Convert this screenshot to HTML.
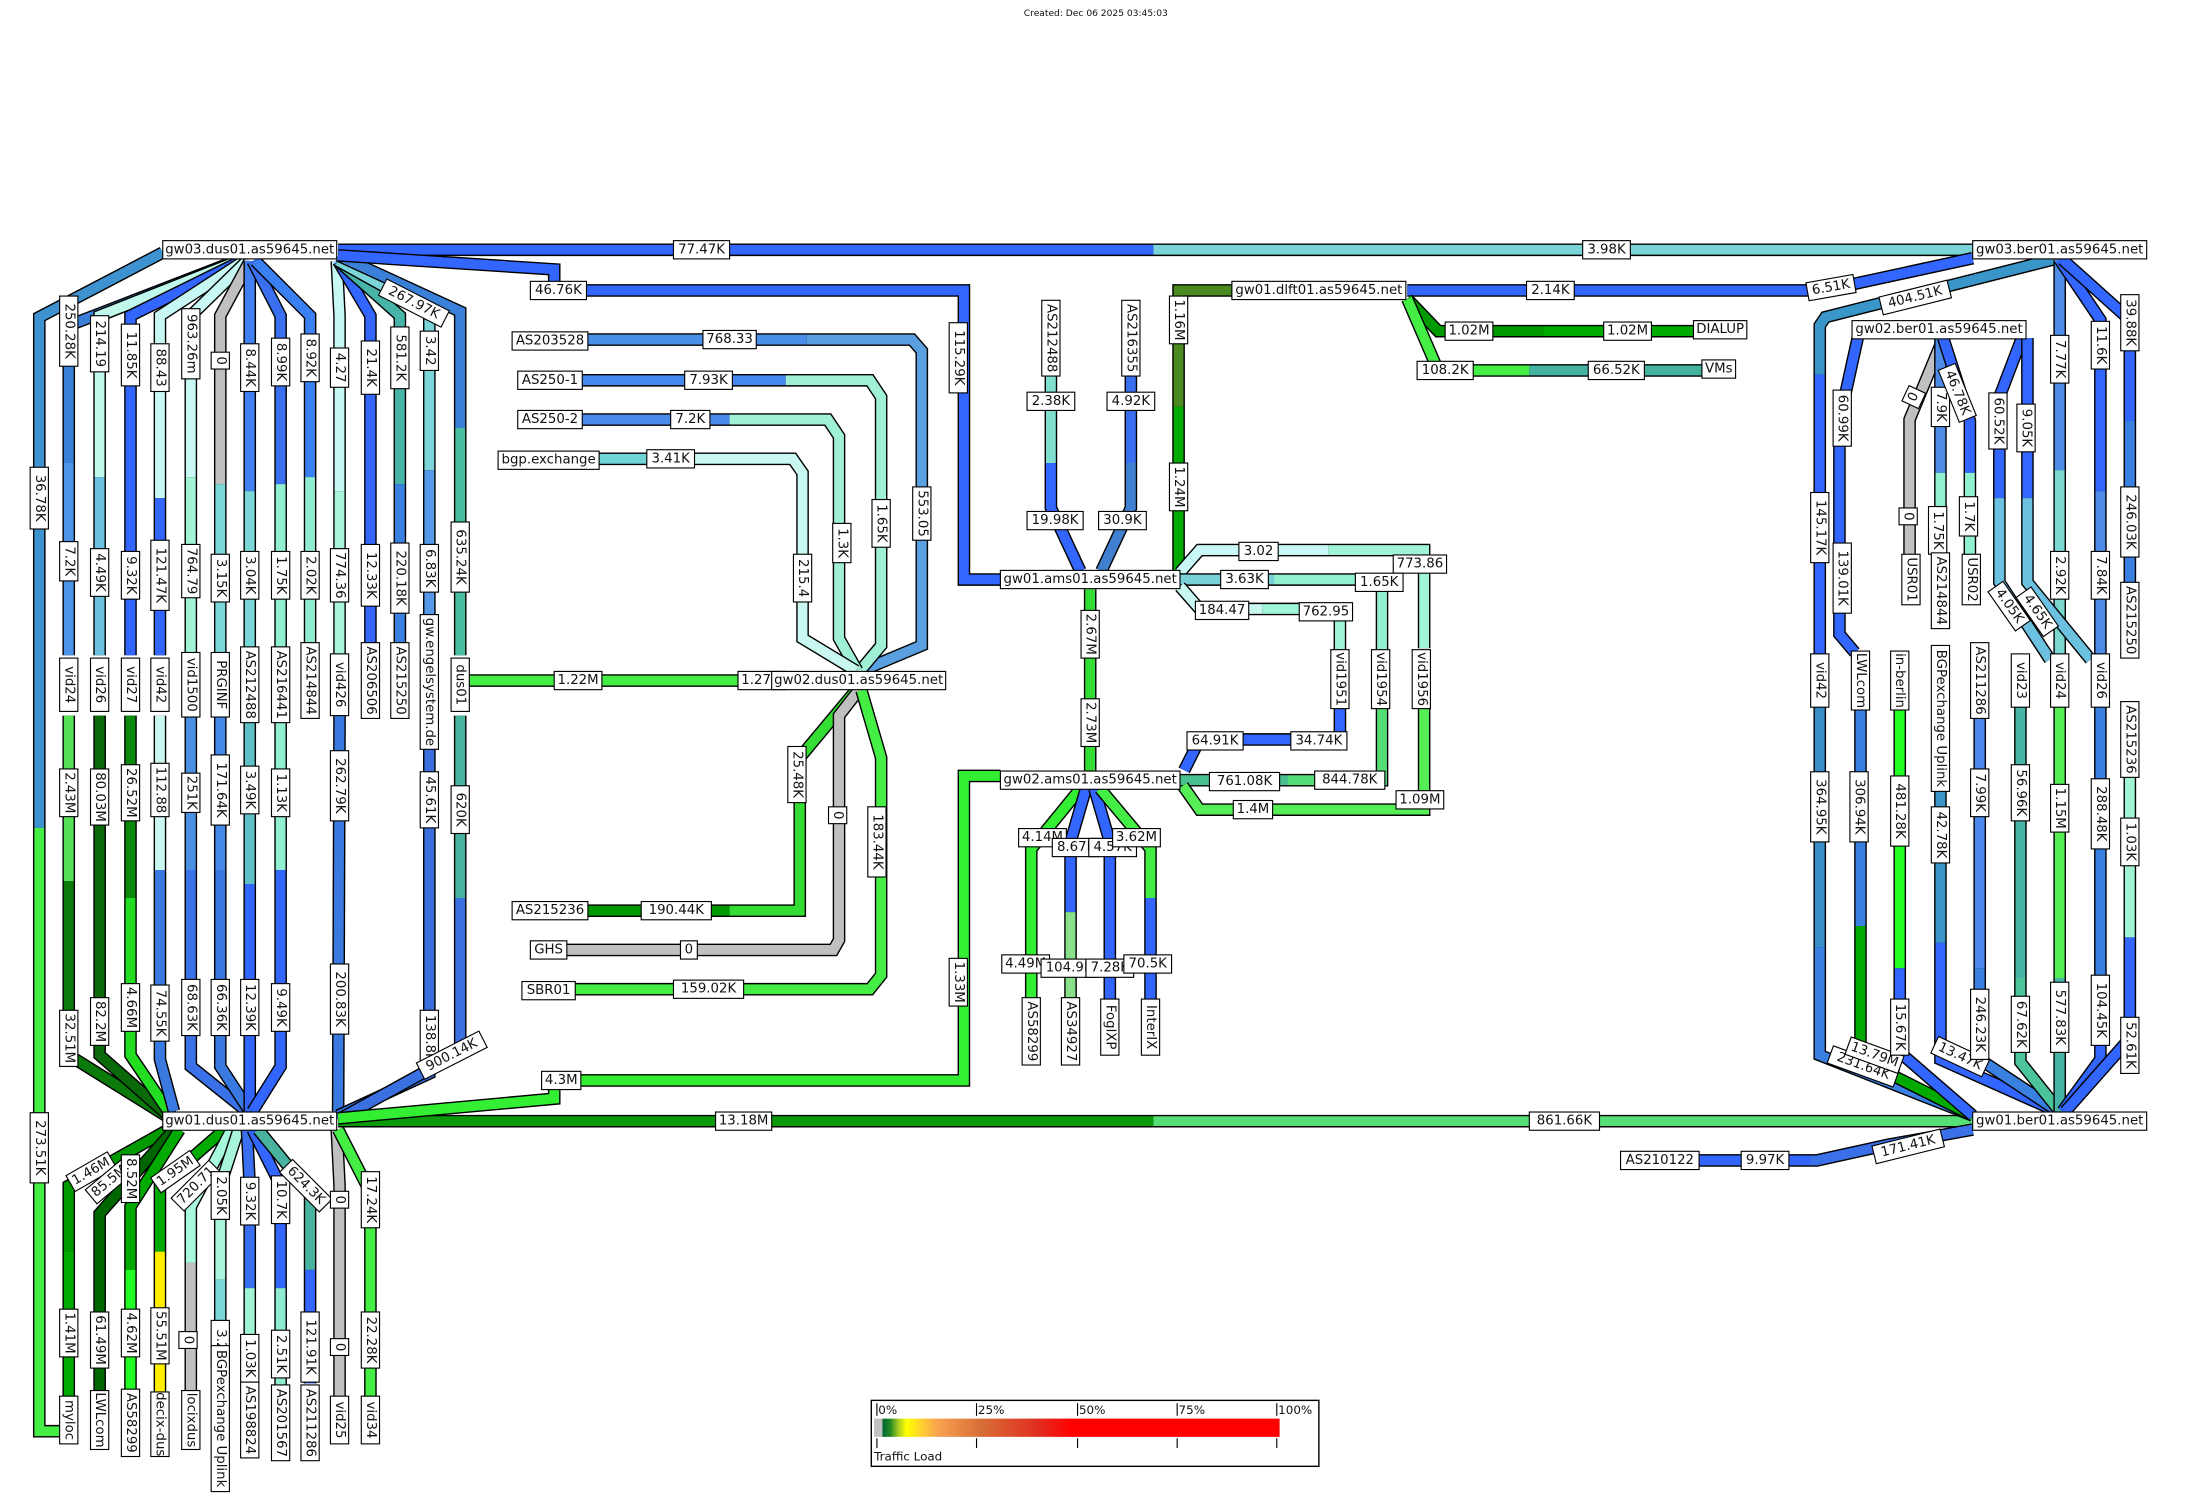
<!DOCTYPE html>
<html><head><meta charset="utf-8"><style>
html,body{margin:0;padding:0;background:#fff}
svg{display:block}
path{fill:none;stroke-width:7;stroke-linejoin:miter}
path.k{stroke:#000;stroke-width:9}
rect{fill:#fff;stroke:#000;stroke-width:.8}
text{font-family:"DejaVu Sans","Liberation Sans",sans-serif;font-size:9.5px;text-anchor:middle;dominant-baseline:central;fill:#111}
</style></head><body>
<svg width="2200" height="1500" viewBox="0 0 1568 1069" preserveAspectRatio="none" xmlns="http://www.w3.org/2000/svg">
<text x="781" y="10" style="font-size:6.5px">Created: Dec 06 2025 03:45:03</text>

<!-- ===== gw03.dus01 columns upper ===== -->
<path class="k" d="M116,180 L28,226 L28,1020 L45,1020"/>
<path stroke="#3e92d0" d="M116,180 L28,226 L28,590"/><path stroke="#44ee44" d="M28,590 L28,1020 L45,1020"/>
<path class="k" d="M168,186 L49,232 L49,467"/><path stroke="#3a80d8" d="M168,186 L49,232 L49,330"/><path stroke="#4d94e8" d="M49,330 L49,467"/>
<path class="k" d="M170,186 L71,225 L71,467"/><path stroke="#c0f8ec" d="M170,186 L71,225 L71,340"/><path stroke="#6cc0e0" d="M71,340 L71,467"/>
<path class="k" d="M172,186 L93,225 L93,467"/><path stroke="#3366ff" d="M172,186 L93,225 L93,467"/>
<path class="k" d="M174,186 L114,225 L114,467"/><path stroke="#c8f8f4" d="M174,186 L114,225 L114,355"/><path stroke="#3366ff" d="M114,355 L114,467"/>
<path class="k" d="M176,186 L136,225 L136,467"/><path stroke="#c8f8f4" d="M176,186 L136,225 L136,340"/><path stroke="#a0f4d4" d="M136,340 L136,467"/>
<path class="k" d="M178,186 L157,225 L157,467"/><path stroke="#c0c0c0" d="M178,186 L157,225 L157,345"/><path stroke="#7ad8d8" d="M157,345 L157,467"/>
<path class="k" d="M178,186 L178,467"/><path stroke="#4080f0" d="M178,186 L178,350"/><path stroke="#7ad8d8" d="M178,350 L178,467"/>
<path class="k" d="M180,186 L200,225 L200,467"/><path stroke="#3a70f0" d="M180,186 L200,225 L200,345"/><path stroke="#90f0d0" d="M200,345 L200,467"/>
<path class="k" d="M182,186 L221,225 L221,467"/><path stroke="#3a80f0" d="M182,186 L221,225 L221,340"/><path stroke="#90ecd0" d="M221,340 L221,467"/>
<path class="k" d="M240,186 L242,225 L242,467"/><path stroke="#c8f8f4" d="M240,186 L242,225 L242,350"/><path stroke="#a8f4dc" d="M242,350 L242,467"/>
<path class="k" d="M241,186 L264,225 L264,467"/><path stroke="#3366ff" d="M241,186 L264,225 L264,467"/>
<path class="k" d="M241,186 L285,225 L285,467"/><path stroke="#48b4a8" d="M241,186 L285,225 L285,345"/><path stroke="#3a80e0" d="M285,345 L285,467"/>
<path class="k" d="M241,186 L306,222 L306,440"/><path stroke="#7ad4d8" d="M241,186 L306,222 L306,335"/><path stroke="#5599e8" d="M306,335 L306,440"/>
<path class="k" d="M241,182 L328,222 L328,467"/><path stroke="#3a80d8" d="M241,182 L328,222 L328,305"/><path stroke="#48c0a0" d="M328,305 L328,467"/>

<!-- lower columns to gw01.dus01 -->
<path class="k" d="M49,510 L49,752 L118,795"/><path stroke="#55e055" d="M49,510 L49,628"/><path stroke="#0a7a0a" d="M49,628 L49,752 L118,795"/>
<path class="k" d="M71,510 L71,752 L120,795"/><path stroke="#0a6a0a" d="M71,510 L71,752 L120,795"/>
<path class="k" d="M93,510 L93,752 L122,795"/><path stroke="#0a8a0a" d="M93,510 L93,640"/><path stroke="#22dd22" d="M93,640 L93,752 L122,795"/>
<path class="k" d="M114,510 L114,755 L124,792"/><path stroke="#c8f8f0" d="M114,510 L114,620"/><path stroke="#3a7ae0" d="M114,620 L114,755 L124,792"/>
<path class="k" d="M136,510 L136,760 L176,792"/><path stroke="#4a90e0" d="M136,510 L136,620"/><path stroke="#3a70e8" d="M136,620 L136,760 L176,792"/>
<path class="k" d="M157,510 L157,760 L178,792"/><path stroke="#4488e8" d="M157,510 L157,620"/><path stroke="#3a7ae0" d="M157,620 L157,760 L178,792"/>
<path class="k" d="M178,510 L178,792"/><path stroke="#60c0c8" d="M178,510 L178,630"/><path stroke="#3366ff" d="M178,630 L178,792"/>
<path class="k" d="M200,510 L200,760 L180,792"/><path stroke="#90f0d0" d="M200,510 L200,620"/><path stroke="#3366ff" d="M200,620 L200,760 L180,792"/>
<path class="k" d="M242,510 L241,792"/><path stroke="#3a7ae0" d="M242,510 L241,792"/>
<path class="k" d="M306,532 L306,765 L241,795"/><path stroke="#3a70e0" d="M306,532 L306,765 L241,795"/>
<path class="k" d="M328,510 L328,750 L241,798"/><path stroke="#48b4a0" d="M328,510 L328,640"/><path stroke="#3a70e0" d="M328,640 L328,750 L241,798"/>

<!-- horizontals -->
<path class="k" d="M241,178 L1406,178"/><path stroke="#3366ff" d="M241,178 L822,178"/><path stroke="#7ad4d8" d="M822,178 L1406,178"/>
<path class="k" d="M241,182 L395,192 L395,207 L687,207 L687,413 L713,413"/><path stroke="#3366ff" d="M241,182 L395,192 L395,207 L687,207 L687,413 L713,413"/>
<path class="k" d="M241,799 L1406,799"/><path stroke="#0a9a0a" d="M241,799 L822,799"/><path stroke="#55e077" d="M822,799 L1406,799"/>
<path class="k" d="M241,797 L395,783 L395,770 L687,770 L687,553 L713,553"/><path stroke="#33ee33" d="M241,797 L395,783 L395,770 L687,770 L687,553 L713,553"/>
<path class="k" d="M332,485 L549,485"/><path stroke="#44ee44" d="M332,485 L549,485"/>

<!-- gw02.dus01 fan -->
<path class="k" d="M418,242 L650,242 L657,250 L657,460 L614,478"/><path stroke="#4a90e8" d="M418,242 L575,242"/><path stroke="#5aa0e0" d="M575,242 L650,242 L657,250 L657,460 L614,478"/>
<path class="k" d="M415,271 L620,271 L628,283 L628,460 L613,478"/><path stroke="#4488ee" d="M415,271 L560,271"/><path stroke="#a0f0d8" d="M560,271 L620,271 L628,283 L628,460 L613,478"/>
<path class="k" d="M415,299 L590,299 L598,311 L598,455 L611,478"/><path stroke="#4a8ae8" d="M415,299 L520,299"/><path stroke="#a0f0d8" d="M520,299 L590,299 L598,311 L598,455 L611,478"/>
<path class="k" d="M427,327 L565,327 L572,337 L572,455 L610,478"/><path stroke="#70d4d8" d="M427,327 L490,327"/><path stroke="#c8f8f0" d="M490,327 L565,327 L572,337 L572,455 L610,478"/>
<path class="k" d="M418,649 L570,649 L570,540 L610,492"/><path stroke="#009900" d="M418,649 L520,649"/><path stroke="#33dd33" d="M520,649 L570,649 L570,540 L610,492"/>
<path class="k" d="M404,677 L594,677 L598,670 L598,510 L612,492"/><path stroke="#c0c0c0" d="M404,677 L594,677 L598,670 L598,510 L612,492"/>
<path class="k" d="M410,705 L620,705 L628,695 L628,540 L614,492"/><path stroke="#44ee44" d="M410,705 L620,705 L628,695 L628,540 L614,492"/>

<!-- ams -->
<path class="k" d="M749,268 L749,362 L770,407"/><path stroke="#80e0d0" d="M749,268 L749,330"/><path stroke="#3366ff" d="M749,330 L749,362 L770,407"/>
<path class="k" d="M806,268 L806,362 L785,407"/><path stroke="#3a70f0" d="M806,268 L806,330"/><path stroke="#4080d0" d="M806,330 L806,362 L785,407"/>
<path class="k" d="M878,207 L840,207 L840,407"/><path stroke="#4a8a20" d="M878,207 L840,207 L840,290"/><path stroke="#00aa00" d="M840,290 L840,407"/>
<path class="k" d="M777,420 L777,549"/><path stroke="#33dd33" d="M777,420 L777,549"/>
<path class="k" d="M841,408 L855,392 L1015,392 L1015,462"/><path stroke="#c8f8f8" d="M841,408 L855,392 L947,392"/><path stroke="#a0f4d8" d="M947,392 L1015,392 L1015,462"/>
<path class="k" d="M841,413 L985,413 L985,463"/><path stroke="#78d0d8" d="M841,413 L908,413"/><path stroke="#90f0d0" d="M908,413 L985,413 L985,463"/>
<path class="k" d="M841,418 L855,434 L955,434 L955,463"/><path stroke="#c8f8f0" d="M841,418 L855,434 L900,434"/><path stroke="#a0f4d8" d="M900,434 L955,434 L955,463"/>
<path class="k" d="M955,505 L955,527 L855,527 L844,549"/><path stroke="#3366ff" d="M955,505 L955,527 L855,527 L844,549"/>
<path class="k" d="M985,505 L985,556 L841,556"/><path stroke="#55dd77" d="M985,505 L985,556 L918,556"/><path stroke="#48c090" d="M918,556 L841,556"/>
<path class="k" d="M1015,505 L1015,577 L855,577 L843,560"/><path stroke="#55ee55" d="M1015,505 L1015,577 L855,577 L843,560"/>
<path class="k" d="M770,562 L735,605 L735,712"/><path stroke="#33ee33" d="M770,562 L735,605 L735,712"/>
<path class="k" d="M774,562 L763,600 L763,712"/><path stroke="#3366ff" d="M774,562 L763,600 L763,650"/><path stroke="#88e088" d="M763,650 L763,712"/>
<path class="k" d="M780,562 L791,600 L791,712"/><path stroke="#3366ff" d="M780,562 L791,600 L791,712"/>
<path class="k" d="M784,562 L820,605 L820,712"/><path stroke="#44ee44" d="M784,562 L820,605 L820,640"/><path stroke="#3366ff" d="M820,640 L820,712"/>

<!-- dlft -->
<path class="k" d="M1003,207 L1300,207 L1406,184"/><path stroke="#3366ff" d="M1003,207 L1300,207 L1406,184"/>
<path class="k" d="M1003,213 L1025,236 L1207,236"/><path stroke="#009900" d="M1003,213 L1025,236 L1100,236"/><path stroke="#00aa00" d="M1100,236 L1207,236"/>
<path class="k" d="M1003,213 L1025,264 L1214,264"/><path stroke="#44ee44" d="M1003,213 L1025,264 L1090,264"/><path stroke="#44b4a0" d="M1090,264 L1214,264"/>

<!-- ber -->
<path class="k" d="M1463,185 L1301,226 L1297,232 L1297,470"/><path stroke="#3a96c8" d="M1463,185 L1301,226 L1297,232 L1297,267"/><path stroke="#3366ff" d="M1297,267 L1297,470"/>
<path class="k" d="M1297,499 L1297,752 L1406,795"/><path stroke="#3a8ec8" d="M1297,499 L1297,675"/><path stroke="#3a80e0" d="M1297,675 L1297,752 L1406,795"/>
<path class="k" d="M1324,241 L1311,300 L1311,452 L1322,465"/><path stroke="#3366ff" d="M1324,241 L1311,300 L1311,452 L1322,465"/>
<path class="k" d="M1326,505 L1326,755 L1406,795"/><path stroke="#3a80e0" d="M1326,505 L1326,660"/><path stroke="#00aa00" d="M1326,660 L1326,755 L1406,795"/>
<path class="k" d="M1354,505 L1354,750 L1406,795"/><path stroke="#22ff22" d="M1354,505 L1354,690"/><path stroke="#3366ff" d="M1354,690 L1354,750 L1406,795"/>
<path class="k" d="M1383,564 L1383,755 L1466,792"/><path stroke="#3a96c8" d="M1383,564 L1383,672"/><path stroke="#3366ff" d="M1383,672 L1383,755 L1466,792"/>
<path class="k" d="M1411,511 L1411,755 L1467,792"/><path stroke="#4d8af0" d="M1411,511 L1411,690"/><path stroke="#3a80e0" d="M1411,690 L1411,755 L1467,792"/>
<path class="k" d="M1440,499 L1440,757 L1468,792"/><path stroke="#48b4a8" d="M1440,499 L1440,697"/><path stroke="#4cc49a" d="M1440,697 L1440,757 L1468,792"/>
<path class="k" d="M1468,499 L1468,792"/><path stroke="#55ee55" d="M1468,499 L1468,697"/><path stroke="#48b4a8" d="M1468,697 L1468,792"/>
<path class="k" d="M1497,499 L1497,755 L1470,792"/><path stroke="#3a80e0" d="M1497,499 L1497,697"/><path stroke="#3366ff" d="M1497,697 L1497,755 L1470,792"/>
<path class="k" d="M1518,554 L1518,740 L1472,792"/><path stroke="#a0f4d4" d="M1518,554 L1518,668"/><path stroke="#3366ff" d="M1518,668 L1518,740 L1472,792"/>
<path class="k" d="M1468,185 L1468,470"/><path stroke="#4d8ce8" d="M1468,185 L1468,335"/><path stroke="#7ad8d0" d="M1468,335 L1468,470"/>
<path class="k" d="M1468,185 L1497,228 L1497,470"/><path stroke="#3366ff" d="M1468,185 L1497,228 L1497,350"/><path stroke="#4d8ce8" d="M1497,350 L1497,470"/>
<path class="k" d="M1470,185 L1518,228 L1518,416"/><path stroke="#3366ff" d="M1470,185 L1518,228 L1518,300"/><path stroke="#3a80e0" d="M1518,300 L1518,416"/>
<path class="k" d="M1385,241 L1361,299 L1361,396"/><path stroke="#c0c0c0" d="M1385,241 L1361,299 L1361,396"/>
<path class="k" d="M1383,241 L1383,396"/><path stroke="#4d8ce8" d="M1383,241 L1383,337"/><path stroke="#90f0d0" d="M1383,337 L1383,396"/>
<path class="k" d="M1385,241 L1404,300 L1404,396"/><path stroke="#3366ff" d="M1385,241 L1404,300 L1404,337"/><path stroke="#90f0d0" d="M1404,337 L1404,396"/>
<path class="k" d="M1441,241 L1425,283 L1425,415 L1461,470"/><path stroke="#3366ff" d="M1441,241 L1425,283 L1425,355"/><path stroke="#6cc0e0" d="M1425,355 L1425,415 L1461,470"/>
<path class="k" d="M1445,241 L1445,415 L1490,470"/><path stroke="#3366ff" d="M1445,241 L1445,355"/><path stroke="#6cc0e0" d="M1445,355 L1445,415 L1490,470"/>
<path class="k" d="M1211,827 L1295,827 L1345,816 L1406,805"/><path stroke="#3366ff" d="M1211,827 L1290,827"/><path stroke="#3a70e8" d="M1290,827 L1295,827 L1345,816 L1406,805"/>

<!-- bottom-left -->
<path class="k" d="M120,805 L49,845 L49,996"/><path stroke="#009900" d="M120,805 L49,845 L49,892"/><path stroke="#00aa00" d="M49,892 L49,996"/>
<path class="k" d="M124,805 L71,865 L71,992"/><path stroke="#006600" d="M124,805 L71,865 L71,992"/>
<path class="k" d="M128,805 L93,860 L93,996"/><path stroke="#00aa00" d="M128,805 L93,860 L93,905"/><path stroke="#22ff22" d="M93,905 L93,996"/>
<path class="k" d="M160,805 L114,845 L114,995"/><path stroke="#00aa00" d="M160,805 L114,845 L114,892"/><path stroke="#ffee00" d="M114,892 L114,995"/>
<path class="k" d="M165,805 L136,860 L136,996"/><path stroke="#a8f8dc" d="M165,805 L136,860 L136,900"/><path stroke="#c0c0c0" d="M136,900 L136,996"/>
<path class="k" d="M170,805 L157,845 L157,960"/><path stroke="#a8f4dc" d="M170,805 L157,845 L157,912"/><path stroke="#7ad8d8" d="M157,912 L157,960"/>
<path class="k" d="M176,805 L178,845 L178,986"/><path stroke="#3a70f0" d="M176,805 L178,845 L178,918"/><path stroke="#a0f4d4" d="M178,918 L178,986"/>
<path class="k" d="M180,805 L200,845 L200,988"/><path stroke="#3366ff" d="M180,805 L200,845 L200,918"/><path stroke="#90ecd0" d="M200,918 L200,988"/>
<path class="k" d="M184,805 L221,850 L221,986"/><path stroke="#48b4a0" d="M184,805 L221,850 L221,905"/><path stroke="#3366ff" d="M221,905 L221,986"/>
<path class="k" d="M240,805 L242,845 L242,1000"/><path stroke="#c0c0c0" d="M240,805 L242,845 L242,1000"/>
<path class="k" d="M241,805 L264,850 L264,1000"/><path stroke="#44ee44" d="M241,805 L264,850 L264,1000"/>

<!-- ===== link labels ===== -->
<g transform="translate(28,355) rotate(90)"><rect x="-22" y="-6.5" width="44" height="13"/><text>36.78K</text></g>
<g transform="translate(28,818) rotate(90)"><rect x="-25" y="-6.5" width="50" height="13"/><text>273.51K</text></g>
<g transform="translate(49,236) rotate(90)"><rect x="-25" y="-6.5" width="50" height="13"/><text>250.28K</text></g>
<g transform="translate(49,400) rotate(90)"><rect x="-14" y="-6.5" width="28" height="13"/><text>7.2K</text></g>
<g transform="translate(71,245) rotate(90)"><rect x="-20" y="-6.5" width="40" height="13"/><text>214.19</text></g>
<g transform="translate(71,408) rotate(90)"><rect x="-17" y="-6.5" width="34" height="13"/><text>4.49K</text></g>
<g transform="translate(93,253) rotate(90)"><rect x="-22" y="-6.5" width="44" height="13"/><text>11.85K</text></g>
<g transform="translate(93,410) rotate(90)"><rect x="-17" y="-6.5" width="34" height="13"/><text>9.32K</text></g>
<g transform="translate(114,262) rotate(90)"><rect x="-17" y="-6.5" width="34" height="13"/><text>88.43</text></g>
<g transform="translate(114,410) rotate(90)"><rect x="-25" y="-6.5" width="50" height="13"/><text>121.47K</text></g>
<g transform="translate(136,245) rotate(90)"><rect x="-25" y="-6.5" width="50" height="13"/><text>963.26m</text></g>
<g transform="translate(136,407) rotate(90)"><rect x="-19" y="-6.5" width="38" height="13"/><text>764.79</text></g>
<g transform="translate(157,257) rotate(90)"><rect x="-6" y="-6.5" width="12" height="13"/><text>0</text></g>
<g transform="translate(157,412) rotate(90)"><rect x="-17" y="-6.5" width="34" height="13"/><text>3.15K</text></g>
<g transform="translate(178,262) rotate(90)"><rect x="-17" y="-6.5" width="34" height="13"/><text>8.44K</text></g>
<g transform="translate(178,410) rotate(90)"><rect x="-17" y="-6.5" width="34" height="13"/><text>3.04K</text></g>
<g transform="translate(200,258) rotate(90)"><rect x="-17" y="-6.5" width="34" height="13"/><text>8.99K</text></g>
<g transform="translate(200,410) rotate(90)"><rect x="-17" y="-6.5" width="34" height="13"/><text>1.75K</text></g>
<g transform="translate(221,255) rotate(90)"><rect x="-17" y="-6.5" width="34" height="13"/><text>8.92K</text></g>
<g transform="translate(221,410) rotate(90)"><rect x="-17" y="-6.5" width="34" height="13"/><text>2.02K</text></g>
<g transform="translate(242,262) rotate(90)"><rect x="-14" y="-6.5" width="28" height="13"/><text>4.27</text></g>
<g transform="translate(242,410) rotate(90)"><rect x="-19" y="-6.5" width="38" height="13"/><text>774.36</text></g>
<g transform="translate(264,262) rotate(90)"><rect x="-19" y="-6.5" width="38" height="13"/><text>21.4K</text></g>
<g transform="translate(264,410) rotate(90)"><rect x="-22" y="-6.5" width="44" height="13"/><text>12.33K</text></g>
<g transform="translate(285,255) rotate(90)"><rect x="-22" y="-6.5" width="44" height="13"/><text>581.2K</text></g>
<g transform="translate(285,412) rotate(90)"><rect x="-25" y="-6.5" width="50" height="13"/><text>220.18K</text></g>
<g transform="translate(306,250) rotate(90)"><rect x="-14" y="-6.5" width="28" height="13"/><text>3.42</text></g>
<g transform="translate(306,405) rotate(90)"><rect x="-17" y="-6.5" width="34" height="13"/><text>6.83K</text></g>
<g transform="translate(295,216) rotate(27)"><rect x="-25" y="-6.5" width="50" height="13"/><text>267.97K</text></g>
<g transform="translate(328,397) rotate(90)"><rect x="-25" y="-6.5" width="50" height="13"/><text>635.24K</text></g>

<g transform="translate(49,565) rotate(90)"><rect x="-17" y="-6.5" width="34" height="13"/><text>2.43M</text></g>
<g transform="translate(49,740) rotate(90)"><rect x="-20" y="-6.5" width="40" height="13"/><text>32.51M</text></g>
<g transform="translate(71,568) rotate(90)"><rect x="-20" y="-6.5" width="40" height="13"/><text>80.03M</text></g>
<g transform="translate(71,728) rotate(90)"><rect x="-17" y="-6.5" width="34" height="13"/><text>82.2M</text></g>
<g transform="translate(93,565) rotate(90)"><rect x="-20" y="-6.5" width="40" height="13"/><text>26.52M</text></g>
<g transform="translate(93,718) rotate(90)"><rect x="-17" y="-6.5" width="34" height="13"/><text>4.66M</text></g>
<g transform="translate(114,563) rotate(90)"><rect x="-19" y="-6.5" width="38" height="13"/><text>112.88</text></g>
<g transform="translate(114,722) rotate(90)"><rect x="-20" y="-6.5" width="40" height="13"/><text>74.55K</text></g>
<g transform="translate(136,565) rotate(90)"><rect x="-14" y="-6.5" width="28" height="13"/><text>251K</text></g>
<g transform="translate(136,718) rotate(90)"><rect x="-20" y="-6.5" width="40" height="13"/><text>68.63K</text></g>
<g transform="translate(157,563) rotate(90)"><rect x="-25" y="-6.5" width="50" height="13"/><text>171.64K</text></g>
<g transform="translate(157,718) rotate(90)"><rect x="-20" y="-6.5" width="40" height="13"/><text>66.36K</text></g>
<g transform="translate(178,563) rotate(90)"><rect x="-17" y="-6.5" width="34" height="13"/><text>3.49K</text></g>
<g transform="translate(178,718) rotate(90)"><rect x="-20" y="-6.5" width="40" height="13"/><text>12.39K</text></g>
<g transform="translate(200,565) rotate(90)"><rect x="-17" y="-6.5" width="34" height="13"/><text>1.13K</text></g>
<g transform="translate(200,718) rotate(90)"><rect x="-17" y="-6.5" width="34" height="13"/><text>9.49K</text></g>
<g transform="translate(242,560) rotate(90)"><rect x="-25" y="-6.5" width="50" height="13"/><text>262.79K</text></g>
<g transform="translate(242,712) rotate(90)"><rect x="-25" y="-6.5" width="50" height="13"/><text>200.83K</text></g>
<g transform="translate(306,570) rotate(90)"><rect x="-20" y="-6.5" width="40" height="13"/><text>45.61K</text></g>
<g transform="translate(306,740) rotate(90)"><rect x="-20" y="-6.5" width="40" height="13"/><text>138.8K</text></g>
<g transform="translate(328,577) rotate(90)"><rect x="-17" y="-6.5" width="34" height="13"/><text>620K</text></g>
<g transform="translate(322,752) rotate(-27)"><rect x="-25" y="-6.5" width="50" height="13"/><text>900.14K</text></g>

<g transform="translate(500,178)"><rect x="-20" y="-6.5" width="40" height="13"/><text>77.47K</text></g>
<g transform="translate(1145,178)"><rect x="-17" y="-6.5" width="34" height="13"/><text>3.98K</text></g>
<g transform="translate(398,207)"><rect x="-20" y="-6.5" width="40" height="13"/><text>46.76K</text></g>
<g transform="translate(683,255) rotate(90)"><rect x="-25" y="-6.5" width="50" height="13"/><text>115.29K</text></g>
<g transform="translate(530,799)"><rect x="-20" y="-6.5" width="40" height="13"/><text>13.18M</text></g>
<g transform="translate(1115,799)"><rect x="-25" y="-6.5" width="50" height="13"/><text>861.66K</text></g>
<g transform="translate(400,770)"><rect x="-14" y="-6.5" width="28" height="13"/><text>4.3M</text></g>
<g transform="translate(683,700) rotate(90)"><rect x="-17" y="-6.5" width="34" height="13"/><text>1.33M</text></g>
<g transform="translate(412,485)"><rect x="-17" y="-6.5" width="34" height="13"/><text>1.22M</text></g>
<g transform="translate(543,485)"><rect x="-17" y="-6.5" width="34" height="13"/><text>1.27M</text></g>

<g transform="translate(520,242)"><rect x="-19" y="-6.5" width="38" height="13"/><text>768.33</text></g>
<g transform="translate(657,366) rotate(90)"><rect x="-19" y="-6.5" width="38" height="13"/><text>553.05</text></g>
<g transform="translate(505,271)"><rect x="-17" y="-6.5" width="34" height="13"/><text>7.93K</text></g>
<g transform="translate(628,373) rotate(90)"><rect x="-17" y="-6.5" width="34" height="13"/><text>1.65K</text></g>
<g transform="translate(492,299)"><rect x="-14" y="-6.5" width="28" height="13"/><text>7.2K</text></g>
<g transform="translate(600,387) rotate(90)"><rect x="-14" y="-6.5" width="28" height="13"/><text>1.3K</text></g>
<g transform="translate(478,327)"><rect x="-17" y="-6.5" width="34" height="13"/><text>3.41K</text></g>
<g transform="translate(572,412) rotate(90)"><rect x="-17" y="-6.5" width="34" height="13"/><text>215.4</text></g>
<g transform="translate(482,649)"><rect x="-25" y="-6.5" width="50" height="13"/><text>190.44K</text></g>
<g transform="translate(568,552) rotate(90)"><rect x="-20" y="-6.5" width="40" height="13"/><text>25.48K</text></g>
<g transform="translate(491,677)"><rect x="-6" y="-6.5" width="12" height="13"/><text>0</text></g>
<g transform="translate(597,581) rotate(90)"><rect x="-6" y="-6.5" width="12" height="13"/><text>0</text></g>
<g transform="translate(505,705)"><rect x="-25" y="-6.5" width="50" height="13"/><text>159.02K</text></g>
<g transform="translate(625,600) rotate(90)"><rect x="-25" y="-6.5" width="50" height="13"/><text>183.44K</text></g>

<g transform="translate(749,286)"><rect x="-17" y="-6.5" width="34" height="13"/><text>2.38K</text></g>
<g transform="translate(752,371)"><rect x="-20" y="-6.5" width="40" height="13"/><text>19.98K</text></g>
<g transform="translate(806,286)"><rect x="-17" y="-6.5" width="34" height="13"/><text>4.92K</text></g>
<g transform="translate(800,371)"><rect x="-17" y="-6.5" width="34" height="13"/><text>30.9K</text></g>
<g transform="translate(840,228) rotate(90)"><rect x="-17" y="-6.5" width="34" height="13"/><text>1.16M</text></g>
<g transform="translate(840,347) rotate(90)"><rect x="-17" y="-6.5" width="34" height="13"/><text>1.24M</text></g>
<g transform="translate(777,452) rotate(90)"><rect x="-17" y="-6.5" width="34" height="13"/><text>2.67M</text></g>
<g transform="translate(777,515) rotate(90)"><rect x="-17" y="-6.5" width="34" height="13"/><text>2.73M</text></g>
<g transform="translate(897,393)"><rect x="-14" y="-6.5" width="28" height="13"/><text>3.02</text></g>
<g transform="translate(1012,402)"><rect x="-19" y="-6.5" width="38" height="13"/><text>773.86</text></g>
<g transform="translate(887,413)"><rect x="-17" y="-6.5" width="34" height="13"/><text>3.63K</text></g>
<g transform="translate(983,415)"><rect x="-17" y="-6.5" width="34" height="13"/><text>1.65K</text></g>
<g transform="translate(871,435)"><rect x="-19" y="-6.5" width="38" height="13"/><text>184.47</text></g>
<g transform="translate(945,436)"><rect x="-19" y="-6.5" width="38" height="13"/><text>762.95</text></g>
<g transform="translate(940,528)"><rect x="-20" y="-6.5" width="40" height="13"/><text>34.74K</text></g>
<g transform="translate(866,528)"><rect x="-20" y="-6.5" width="40" height="13"/><text>64.91K</text></g>
<g transform="translate(962,556)"><rect x="-25" y="-6.5" width="50" height="13"/><text>844.78K</text></g>
<g transform="translate(887,557)"><rect x="-25" y="-6.5" width="50" height="13"/><text>761.08K</text></g>
<g transform="translate(1012,570)"><rect x="-17" y="-6.5" width="34" height="13"/><text>1.09M</text></g>
<g transform="translate(893,577)"><rect x="-14" y="-6.5" width="28" height="13"/><text>1.4M</text></g>
<g transform="translate(743,597)"><rect x="-17" y="-6.5" width="34" height="13"/><text>4.14M</text></g>
<g transform="translate(731,687)"><rect x="-17" y="-6.5" width="34" height="13"/><text>4.49M</text></g>
<g transform="translate(767,604)"><rect x="-17" y="-6.5" width="34" height="13"/><text>8.67K</text></g>
<g transform="translate(762,690)"><rect x="-20" y="-6.5" width="40" height="13"/><text>104.9K</text></g>
<g transform="translate(793,604)"><rect x="-17" y="-6.5" width="34" height="13"/><text>4.57K</text></g>
<g transform="translate(791,690)"><rect x="-17" y="-6.5" width="34" height="13"/><text>7.28K</text></g>
<g transform="translate(810,597)"><rect x="-17" y="-6.5" width="34" height="13"/><text>3.62M</text></g>
<g transform="translate(818,687)"><rect x="-17" y="-6.5" width="34" height="13"/><text>70.5K</text></g>

<g transform="translate(1105,207)"><rect x="-17" y="-6.5" width="34" height="13"/><text>2.14K</text></g>
<g transform="translate(1305,205) rotate(-10)"><rect x="-17" y="-6.5" width="34" height="13"/><text>6.51K</text></g>
<g transform="translate(1047,236)"><rect x="-17" y="-6.5" width="34" height="13"/><text>1.02M</text></g>
<g transform="translate(1160,236)"><rect x="-17" y="-6.5" width="34" height="13"/><text>1.02M</text></g>
<g transform="translate(1030,264)"><rect x="-20" y="-6.5" width="40" height="13"/><text>108.2K</text></g>
<g transform="translate(1152,264)"><rect x="-20" y="-6.5" width="40" height="13"/><text>66.52K</text></g>

<g transform="translate(1365,212) rotate(-14)"><rect x="-25" y="-6.5" width="50" height="13"/><text>404.51K</text></g>
<g transform="translate(1297,376) rotate(90)"><rect x="-25" y="-6.5" width="50" height="13"/><text>145.17K</text></g>
<g transform="translate(1297,575) rotate(90)"><rect x="-25" y="-6.5" width="50" height="13"/><text>364.95K</text></g>
<g transform="translate(1328,760) rotate(20)"><rect x="-25" y="-6.5" width="50" height="13"/><text>231.64K</text></g>
<g transform="translate(1313,298) rotate(90)"><rect x="-20" y="-6.5" width="40" height="13"/><text>60.99K</text></g>
<g transform="translate(1313,412) rotate(90)"><rect x="-25" y="-6.5" width="50" height="13"/><text>139.01K</text></g>
<g transform="translate(1325,575) rotate(90)"><rect x="-25" y="-6.5" width="50" height="13"/><text>306.94K</text></g>
<g transform="translate(1336,752) rotate(20)"><rect x="-20" y="-6.5" width="40" height="13"/><text>13.79M</text></g>
<g transform="translate(1354,578) rotate(90)"><rect x="-25" y="-6.5" width="50" height="13"/><text>481.28K</text></g>
<g transform="translate(1354,732) rotate(90)"><rect x="-20" y="-6.5" width="40" height="13"/><text>15.67K</text></g>
<g transform="translate(1383,595) rotate(90)"><rect x="-20" y="-6.5" width="40" height="13"/><text>42.78K</text></g>
<g transform="translate(1397,753) rotate(25)"><rect x="-20" y="-6.5" width="40" height="13"/><text>13.47K</text></g>
<g transform="translate(1411,565) rotate(90)"><rect x="-17" y="-6.5" width="34" height="13"/><text>7.99K</text></g>
<g transform="translate(1411,730) rotate(90)"><rect x="-25" y="-6.5" width="50" height="13"/><text>246.23K</text></g>
<g transform="translate(1440,565) rotate(90)"><rect x="-20" y="-6.5" width="40" height="13"/><text>56.96K</text></g>
<g transform="translate(1440,730) rotate(90)"><rect x="-20" y="-6.5" width="40" height="13"/><text>67.62K</text></g>
<g transform="translate(1468,576) rotate(90)"><rect x="-17" y="-6.5" width="34" height="13"/><text>1.15M</text></g>
<g transform="translate(1468,725) rotate(90)"><rect x="-25" y="-6.5" width="50" height="13"/><text>577.83K</text></g>
<g transform="translate(1497,580) rotate(90)"><rect x="-25" y="-6.5" width="50" height="13"/><text>288.48K</text></g>
<g transform="translate(1497,720) rotate(90)"><rect x="-25" y="-6.5" width="50" height="13"/><text>104.45K</text></g>
<g transform="translate(1518,600) rotate(90)"><rect x="-17" y="-6.5" width="34" height="13"/><text>1.03K</text></g>
<g transform="translate(1518,745) rotate(90)"><rect x="-20" y="-6.5" width="40" height="13"/><text>52.61K</text></g>
<g transform="translate(1468,256) rotate(90)"><rect x="-17" y="-6.5" width="34" height="13"/><text>7.77K</text></g>
<g transform="translate(1468,410) rotate(90)"><rect x="-17" y="-6.5" width="34" height="13"/><text>2.92K</text></g>
<g transform="translate(1497,246) rotate(90)"><rect x="-17" y="-6.5" width="34" height="13"/><text>11.6K</text></g>
<g transform="translate(1497,410) rotate(90)"><rect x="-17" y="-6.5" width="34" height="13"/><text>7.84K</text></g>
<g transform="translate(1518,230) rotate(90)"><rect x="-20" y="-6.5" width="40" height="13"/><text>39.88K</text></g>
<g transform="translate(1518,372) rotate(90)"><rect x="-25" y="-6.5" width="50" height="13"/><text>246.03K</text></g>
<g transform="translate(1364,283) rotate(-65)"><rect x="-6" y="-6.5" width="12" height="13"/><text>0</text></g>
<g transform="translate(1360,368) rotate(90)"><rect x="-6" y="-6.5" width="12" height="13"/><text>0</text></g>
<g transform="translate(1383,290) rotate(90)"><rect x="-14" y="-6.5" width="28" height="13"/><text>7.9K</text></g>
<g transform="translate(1381,378) rotate(90)"><rect x="-17" y="-6.5" width="34" height="13"/><text>1.75K</text></g>
<g transform="translate(1395,280) rotate(68)"><rect x="-20" y="-6.5" width="40" height="13"/><text>46.78K</text></g>
<g transform="translate(1403,368) rotate(90)"><rect x="-14" y="-6.5" width="28" height="13"/><text>1.7K</text></g>
<g transform="translate(1424,300) rotate(90)"><rect x="-20" y="-6.5" width="40" height="13"/><text>60.52K</text></g>
<g transform="translate(1432,432) rotate(55)"><rect x="-17" y="-6.5" width="34" height="13"/><text>4.05K</text></g>
<g transform="translate(1444,305) rotate(90)"><rect x="-17" y="-6.5" width="34" height="13"/><text>9.05K</text></g>
<g transform="translate(1452,436) rotate(55)"><rect x="-17" y="-6.5" width="34" height="13"/><text>4.65K</text></g>
<g transform="translate(1258,827)"><rect x="-17" y="-6.5" width="34" height="13"/><text>9.97K</text></g>
<g transform="translate(1360,817) rotate(-14)"><rect x="-25" y="-6.5" width="50" height="13"/><text>171.41K</text></g>

<g transform="translate(65,835) rotate(-30)"><rect x="-17" y="-6.5" width="34" height="13"/><text>1.46M</text></g>
<g transform="translate(78,842) rotate(-40)"><rect x="-17" y="-6.5" width="34" height="13"/><text>85.5M</text></g>
<g transform="translate(93,840) rotate(90)"><rect x="-17" y="-6.5" width="34" height="13"/><text>8.52M</text></g>
<g transform="translate(125,835) rotate(-35)"><rect x="-17" y="-6.5" width="34" height="13"/><text>1.95M</text></g>
<g transform="translate(140,845) rotate(-45)"><rect x="-19" y="-6.5" width="38" height="13"/><text>720.71</text></g>
<g transform="translate(157,852) rotate(90)"><rect x="-17" y="-6.5" width="34" height="13"/><text>2.05K</text></g>
<g transform="translate(178,856) rotate(90)"><rect x="-17" y="-6.5" width="34" height="13"/><text>9.32K</text></g>
<g transform="translate(200,855) rotate(90)"><rect x="-17" y="-6.5" width="34" height="13"/><text>10.7K</text></g>
<g transform="translate(218,845) rotate(45)"><rect x="-20" y="-6.5" width="40" height="13"/><text>624.3K</text></g>
<g transform="translate(242,855) rotate(90)"><rect x="-6" y="-6.5" width="12" height="13"/><text>0</text></g>
<g transform="translate(264,855) rotate(90)"><rect x="-20" y="-6.5" width="40" height="13"/><text>17.24K</text></g>
<g transform="translate(49,950) rotate(90)"><rect x="-17" y="-6.5" width="34" height="13"/><text>1.41M</text></g>
<g transform="translate(71,955) rotate(90)"><rect x="-20" y="-6.5" width="40" height="13"/><text>61.49M</text></g>
<g transform="translate(93,950) rotate(90)"><rect x="-17" y="-6.5" width="34" height="13"/><text>4.62M</text></g>
<g transform="translate(114,952) rotate(90)"><rect x="-20" y="-6.5" width="40" height="13"/><text>55.51M</text></g>
<g transform="translate(134,955) rotate(90)"><rect x="-6" y="-6.5" width="12" height="13"/><text>0</text></g>
<g transform="translate(157,958) rotate(90)"><rect x="-17" y="-6.5" width="34" height="13"/><text>3.2K</text></g>
<g transform="translate(178,968) rotate(90)"><rect x="-17" y="-6.5" width="34" height="13"/><text>1.03K</text></g>
<g transform="translate(200,965) rotate(90)"><rect x="-17" y="-6.5" width="34" height="13"/><text>2.51K</text></g>
<g transform="translate(221,960) rotate(90)"><rect x="-25" y="-6.5" width="50" height="13"/><text>121.91K</text></g>
<g transform="translate(242,960) rotate(90)"><rect x="-6" y="-6.5" width="12" height="13"/><text>0</text></g>
<g transform="translate(264,955) rotate(90)"><rect x="-20" y="-6.5" width="40" height="13"/><text>22.28K</text></g>

<!-- ===== nodes ===== -->
<g transform="translate(178,178)"><rect x="-62" y="-6.5" width="124" height="13"/><text>gw03.dus01.as59645.net</text></g>
<g transform="translate(178,799)"><rect x="-62" y="-6.5" width="124" height="13"/><text>gw01.dus01.as59645.net</text></g>
<g transform="translate(612,485)"><rect x="-62" y="-6.5" width="124" height="13"/><text>gw02.dus01.as59645.net</text></g>
<g transform="translate(777,413)"><rect x="-64" y="-6.5" width="128" height="13"/><text>gw01.ams01.as59645.net</text></g>
<g transform="translate(777,556)"><rect x="-64" y="-6.5" width="128" height="13"/><text>gw02.ams01.as59645.net</text></g>
<g transform="translate(940,207)"><rect x="-62" y="-6.5" width="124" height="13"/><text>gw01.dlft01.as59645.net</text></g>
<g transform="translate(1468,178)"><rect x="-62" y="-6.5" width="124" height="13"/><text>gw03.ber01.as59645.net</text></g>
<g transform="translate(1382,235)"><rect x="-62" y="-6.5" width="124" height="13"/><text>gw02.ber01.as59645.net</text></g>
<g transform="translate(1468,799)"><rect x="-62" y="-6.5" width="124" height="13"/><text>gw01.ber01.as59645.net</text></g>
<g transform="translate(392,243)"><rect x="-27" y="-6.5" width="54" height="13"/><text>AS203528</text></g>
<g transform="translate(392,271)"><rect x="-23" y="-6.5" width="46" height="13"/><text>AS250-1</text></g>
<g transform="translate(392,299)"><rect x="-23" y="-6.5" width="46" height="13"/><text>AS250-2</text></g>
<g transform="translate(391,328)"><rect x="-36" y="-6.5" width="72" height="13"/><text>bgp.exchange</text></g>
<g transform="translate(392,649)"><rect x="-27" y="-6.5" width="54" height="13"/><text>AS215236</text></g>
<g transform="translate(391,677)"><rect x="-13" y="-6.5" width="26" height="13"/><text>GHS</text></g>
<g transform="translate(391,706)"><rect x="-19" y="-6.5" width="38" height="13"/><text>SBR01</text></g>
<g transform="translate(1226,235)"><rect x="-19" y="-6.5" width="38" height="13"/><text>DIALUP</text></g>
<g transform="translate(1225,263)"><rect x="-12" y="-6.5" width="24" height="13"/><text>VMs</text></g>
<g transform="translate(1183,827)"><rect x="-28" y="-6.5" width="56" height="13"/><text>AS210122</text></g>
<g transform="translate(749,241) rotate(90)"><rect x="-27" y="-6.5" width="54" height="13"/><text>AS212488</text></g>
<g transform="translate(806,241) rotate(90)"><rect x="-27" y="-6.5" width="54" height="13"/><text>AS216355</text></g>
<g transform="translate(955,484) rotate(90)"><rect x="-21" y="-6.5" width="42" height="13"/><text>vid1951</text></g>
<g transform="translate(984,484) rotate(90)"><rect x="-21" y="-6.5" width="42" height="13"/><text>vid1954</text></g>
<g transform="translate(1013,484) rotate(90)"><rect x="-21" y="-6.5" width="42" height="13"/><text>vid1956</text></g>
<g transform="translate(735,735) rotate(90)"><rect x="-24" y="-6.5" width="48" height="13"/><text>AS58299</text></g>
<g transform="translate(763,735) rotate(90)"><rect x="-24" y="-6.5" width="48" height="13"/><text>AS34927</text></g>
<g transform="translate(791,732) rotate(90)"><rect x="-20" y="-6.5" width="40" height="13"/><text>FoglXP</text></g>
<g transform="translate(820,732) rotate(90)"><rect x="-20" y="-6.5" width="40" height="13"/><text>InterIX</text></g>

<g transform="translate(49,488) rotate(90)"><rect x="-19" y="-6.5" width="38" height="13"/><text>vid24</text></g>
<g transform="translate(71,488) rotate(90)"><rect x="-19" y="-6.5" width="38" height="13"/><text>vid26</text></g>
<g transform="translate(93,488) rotate(90)"><rect x="-19" y="-6.5" width="38" height="13"/><text>vid27</text></g>
<g transform="translate(114,488) rotate(90)"><rect x="-19" y="-6.5" width="38" height="13"/><text>vid42</text></g>
<g transform="translate(136,488) rotate(90)"><rect x="-23" y="-6.5" width="46" height="13"/><text>vid1500</text></g>
<g transform="translate(157,488) rotate(90)"><rect x="-23" y="-6.5" width="46" height="13"/><text>PRGINF</text></g>
<g transform="translate(178,488) rotate(90)"><rect x="-27" y="-6.5" width="54" height="13"/><text>AS212488</text></g>
<g transform="translate(200,488) rotate(90)"><rect x="-27" y="-6.5" width="54" height="13"/><text>AS216441</text></g>
<g transform="translate(221,485) rotate(90)"><rect x="-27" y="-6.5" width="54" height="13"/><text>AS214844</text></g>
<g transform="translate(242,488) rotate(90)"><rect x="-22" y="-6.5" width="44" height="13"/><text>vid426</text></g>
<g transform="translate(264,485) rotate(90)"><rect x="-27" y="-6.5" width="54" height="13"/><text>AS206506</text></g>
<g transform="translate(285,485) rotate(90)"><rect x="-27" y="-6.5" width="54" height="13"/><text>AS215250</text></g>
<g transform="translate(306,486) rotate(90)"><rect x="-48" y="-6.5" width="96" height="13"/><text>gw.engelsystem.de</text></g>
<g transform="translate(328,488) rotate(90)"><rect x="-19" y="-6.5" width="38" height="13"/><text>dus01</text></g>

<g transform="translate(1297,485) rotate(90)"><rect x="-19" y="-6.5" width="38" height="13"/><text>vid42</text></g>
<g transform="translate(1326,485) rotate(90)"><rect x="-21" y="-6.5" width="42" height="13"/><text>LWLcom</text></g>
<g transform="translate(1354,485) rotate(90)"><rect x="-21" y="-6.5" width="42" height="13"/><text>in-berlin</text></g>
<g transform="translate(1383,512) rotate(90)"><rect x="-52" y="-6.5" width="104" height="13"/><text>BGPexchange Uplink</text></g>
<g transform="translate(1411,485) rotate(90)"><rect x="-27" y="-6.5" width="54" height="13"/><text>AS211286</text></g>
<g transform="translate(1440,485) rotate(90)"><rect x="-19" y="-6.5" width="38" height="13"/><text>vid23</text></g>
<g transform="translate(1468,485) rotate(90)"><rect x="-19" y="-6.5" width="38" height="13"/><text>vid24</text></g>
<g transform="translate(1497,485) rotate(90)"><rect x="-19" y="-6.5" width="38" height="13"/><text>vid26</text></g>
<g transform="translate(1518,527) rotate(90)"><rect x="-27" y="-6.5" width="54" height="13"/><text>AS215236</text></g>
<g transform="translate(1518,442) rotate(90)"><rect x="-27" y="-6.5" width="54" height="13"/><text>AS215250</text></g>
<g transform="translate(1362,413) rotate(90)"><rect x="-18" y="-6.5" width="36" height="13"/><text>USR01</text></g>
<g transform="translate(1383,421) rotate(90)"><rect x="-27" y="-6.5" width="54" height="13"/><text>AS214844</text></g>
<g transform="translate(1405,413) rotate(90)"><rect x="-18" y="-6.5" width="36" height="13"/><text>USR02</text></g>

<g transform="translate(49,1012) rotate(90)"><rect x="-17" y="-6.5" width="34" height="13"/><text>myloc</text></g>
<g transform="translate(71,1012) rotate(90)"><rect x="-21" y="-6.5" width="42" height="13"/><text>LWLcom</text></g>
<g transform="translate(93,1014) rotate(90)"><rect x="-24" y="-6.5" width="48" height="13"/><text>AS58299</text></g>
<g transform="translate(114,1015) rotate(90)"><rect x="-23" y="-6.5" width="46" height="13"/><text>decix-dus</text></g>
<g transform="translate(136,1012) rotate(90)"><rect x="-21" y="-6.5" width="42" height="13"/><text>locixdus</text></g>
<g transform="translate(157,1011) rotate(90)"><rect x="-52" y="-6.5" width="104" height="13"/><text>BGPexchange Uplink</text></g>
<g transform="translate(178,1012) rotate(90)"><rect x="-27" y="-6.5" width="54" height="13"/><text>AS198824</text></g>
<g transform="translate(200,1014) rotate(90)"><rect x="-27" y="-6.5" width="54" height="13"/><text>AS201567</text></g>
<g transform="translate(221,1014) rotate(90)"><rect x="-27" y="-6.5" width="54" height="13"/><text>AS211286</text></g>
<g transform="translate(242,1012) rotate(90)"><rect x="-17" y="-6.5" width="34" height="13"/><text>vid25</text></g>
<g transform="translate(264,1012) rotate(90)"><rect x="-17" y="-6.5" width="34" height="13"/><text>vid34</text></g>

<!-- legend -->
<rect x="621" y="998" width="319" height="47" style="stroke-width:1"/>
<defs><linearGradient id="lg" x1="0" x2="1" y1="0" y2="0">
<stop offset="0" stop-color="#c0c0c0"/><stop offset=".02" stop-color="#c0c0c0"/><stop offset=".021" stop-color="#006633"/><stop offset=".04" stop-color="#228822"/><stop offset=".06" stop-color="#aacc22"/><stop offset=".08" stop-color="#ffff00"/><stop offset=".12" stop-color="#ffcc33"/><stop offset=".16" stop-color="#f8a050"/><stop offset=".26" stop-color="#d87038"/><stop offset=".4" stop-color="#e03020"/><stop offset=".49" stop-color="#ff0000"/><stop offset="1" stop-color="#ff0000"/></linearGradient></defs>
<rect x="623" y="1011" width="289" height="13" style="fill:url(#lg);stroke:none"/>
<g style="stroke:#000;stroke-width:.8">
<line x1="625" y1="1000" x2="625" y2="1009"/><line x1="696" y1="1000" x2="696" y2="1009"/><line x1="768" y1="1000" x2="768" y2="1009"/><line x1="839" y1="1000" x2="839" y2="1009"/><line x1="910" y1="1000" x2="910" y2="1009"/>
<line x1="625" y1="1025" x2="625" y2="1032"/><line x1="696" y1="1025" x2="696" y2="1032"/><line x1="768" y1="1025" x2="768" y2="1032"/><line x1="839" y1="1025" x2="839" y2="1032"/><line x1="910" y1="1025" x2="910" y2="1032"/></g>
<g style="text-anchor:start"><text x="626" y="1005" style="text-anchor:start;font-size:8.5px">0%</text><text x="697" y="1005" style="text-anchor:start;font-size:8.5px">25%</text><text x="769" y="1005" style="text-anchor:start;font-size:8.5px">50%</text><text x="840" y="1005" style="text-anchor:start;font-size:8.5px">75%</text><text x="911" y="1005" style="text-anchor:start;font-size:8.5px">100%</text>
<text x="623" y="1038" style="text-anchor:start;font-size:8.5px">Traffic Load</text></g>
</svg>
</body></html>
